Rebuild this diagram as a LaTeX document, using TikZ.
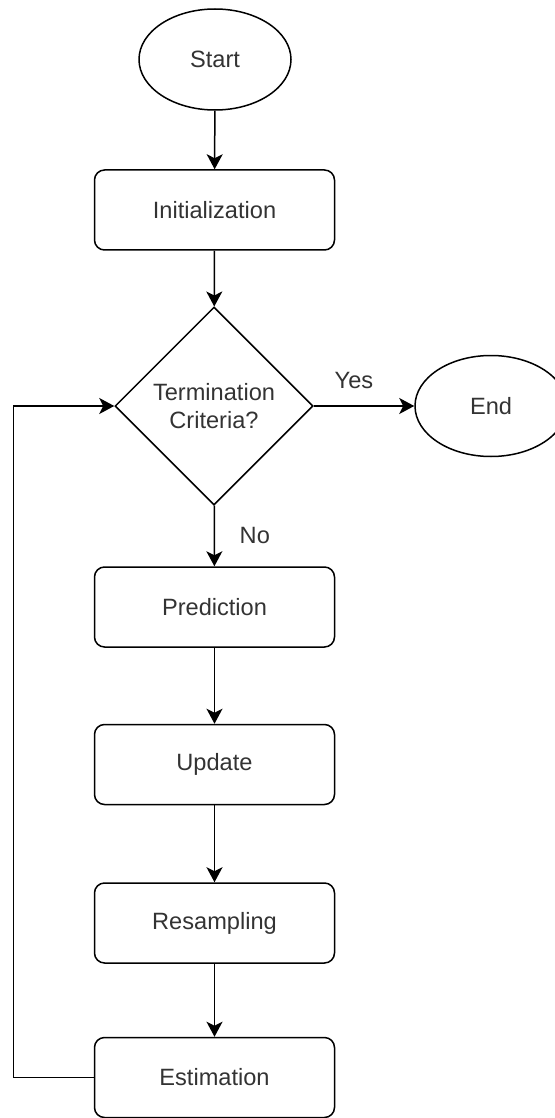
\documentclass[tikz,border=0pt]{standalone}
\usepackage{fontspec}
\setmainfont{Liberation Sans}
\usetikzlibrary{shapes.geometric,arrows.meta,positioning}

\begin{document}
\begin{tikzpicture}[x=0.5pt,y=-0.5pt, line width=0.75pt,
  font=\fontsize{11.8}{14}\selectfont,
  term/.style={ellipse,draw,inner sep=0pt,minimum width=76pt,minimum height=50.5pt,text=black!80},
  proc/.style={rectangle,rounded corners=5pt,draw,minimum width=120pt,minimum height=40pt,text=black!80},
  decis/.style={diamond,draw,inner sep=0pt,minimum size=99pt,aspect=1,align=center,text=black!80},
  arr/.style={-{Stealth[length=7.5pt,width=8pt,inset=2pt]}},
  lbl/.style={text=black!80}]

\useasboundingbox (0,0) rectangle (555,1118);

%nodes
\node[term] (start) at (215,59.5) {Start};
\node[proc] (init) at (214.5,210) {Initialization};
\node[decis] (decide) at (214,406) {Termination\\Criteria?};
\node[term] (end) at (491,406) {End};
\node[proc] (pred) at (214.5,607) {Prediction};
\node[proc] (upd) at (214.5,764.5) {Update};
\node[proc] (resamp) at (214.5,923) {Resampling};
\node[proc] (est) at (214.5,1077.5) {Estimation};

% main flow
\draw[arr] (start) -- (init);
\draw[arr] (init) -- (decide);
\draw[arr] (decide) -- node[lbl, above=5pt, pos=0.4] {Yes} (end);
\draw[arr] (decide) -- node[lbl, right=9pt] {No} (pred);
\draw[arr] (pred) -- (upd);
\draw[arr] (upd) -- (resamp);
\draw[arr] (resamp) -- (est);

% loop back
\coordinate (back) at (13.5,406);
\draw[arr] (est.west) -| (back) -- (decide.west);
\end{tikzpicture}
\end{document}
